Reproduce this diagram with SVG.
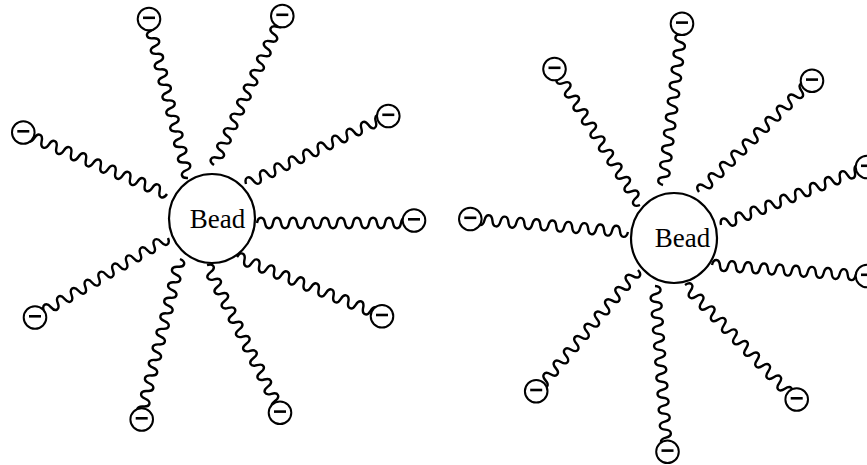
<svg xmlns="http://www.w3.org/2000/svg" xmlns:xlink="http://www.w3.org/1999/xlink" width="867" height="465" viewBox="0 0 867 465">
<style>
.bead{fill:#fff;stroke:#000;stroke-width:2.2}
.ion circle{fill:#fff;stroke:#000;stroke-width:2}
.ion line{stroke:#000;stroke-width:2.6}
.lbl{font-family:"Liberation Serif","Times New Roman",serif;font-size:27px;fill:#000;text-anchor:middle}
</style>
<defs>
<path id="w18" d="M0,0c1.2,-7 6.8,-7 8,0s6.8,7 8,0s6.8,-7 8,0s6.8,7 8,0s6.8,-7 8,0s6.8,7 8,0s6.8,-7 8,0s6.8,7 8,0s6.8,-7 8,0s6.8,7 8,0s6.8,-7 8,0s6.8,7 8,0s6.8,-7 8,0s6.8,7 8,0s6.8,-7 8,0s6.8,7 8,0s6.8,-7 8,0s6.8,7 8,0"/>
<path id="w19" d="M0,0c1.2,-7 6.8,-7 8,0s6.8,7 8,0s6.8,-7 8,0s6.8,7 8,0s6.8,-7 8,0s6.8,7 8,0s6.8,-7 8,0s6.8,7 8,0s6.8,-7 8,0s6.8,7 8,0s6.8,-7 8,0s6.8,7 8,0s6.8,-7 8,0s6.8,7 8,0s6.8,-7 8,0s6.8,7 8,0s6.8,-7 8,0s6.8,7 8,0s6.8,-7 8,0"/>
<path id="w20" d="M0,0c1.2,-7 6.8,-7 8,0s6.8,7 8,0s6.8,-7 8,0s6.8,7 8,0s6.8,-7 8,0s6.8,7 8,0s6.8,-7 8,0s6.8,7 8,0s6.8,-7 8,0s6.8,7 8,0s6.8,-7 8,0s6.8,7 8,0s6.8,-7 8,0s6.8,7 8,0s6.8,-7 8,0s6.8,7 8,0s6.8,-7 8,0s6.8,7 8,0s6.8,-7 8,0s6.8,7 8,0"/>
</defs>
<g id="connectors" fill="none" stroke="#000" stroke-width="2.4">
<use href="#w20" transform="translate(188,178) rotate(-104.04)"/>
<use href="#w20" transform="translate(214,165) rotate(-65.46)"/>
<use href="#w19" transform="translate(246,184) rotate(-25.68)"/>
<use href="#w19" transform="translate(257,223)"/>
<use href="#w19" transform="translate(167,194) rotate(-157.17)"/>
<use href="#w19" transform="translate(168,238) rotate(149.46)"/>
<use href="#w20" transform="translate(180,259) rotate(103.95)"/>
<use href="#w20" transform="translate(207,265) rotate(63.43)"/>
<use href="#w19" transform="translate(237,257) rotate(21.95)"/>
<use href="#w20" transform="translate(640,205) rotate(-122.09)"/>
<use href="#w20" transform="translate(663,185) rotate(-83.16)"/>
<use href="#w20" transform="translate(699,192) rotate(-44.72)"/>
<use href="#w20" transform="translate(721,225) rotate(-21.67)"/>
<use href="#w19" transform="translate(628,232) rotate(-175.3)"/>
<use href="#w19" transform="translate(712,265) rotate(4.06)"/>
<use href="#w20" transform="translate(685,285) rotate(46.11)"/>
<use href="#w20" transform="translate(655,286) rotate(85.89)"/>
<use href="#w19" transform="translate(638,270) rotate(129.96)"/>
</g>
<g id="bead-left"><ellipse class="bead" cx="212" cy="218.5" rx="43" ry="44.5"/><text class="lbl" x="217.5" y="228">Bead</text></g>
<g id="bead-right"><ellipse class="bead" cx="674" cy="238" rx="43" ry="45"/><text class="lbl" x="682.5" y="247">Bead</text></g>
<g id="ion-L1" class="ion"><circle cx="149" cy="19" r="11.3"/><line x1="143" y1="17.8" x2="155" y2="17.8"/></g>
<g id="ion-L2" class="ion"><circle cx="282.3" cy="16" r="11.3"/><line x1="276.3" y1="14.8" x2="288.3" y2="14.8"/></g>
<g id="ion-L3" class="ion"><circle cx="388.3" cy="116" r="11.3"/><line x1="382.3" y1="114.8" x2="394.3" y2="114.8"/></g>
<g id="ion-L4" class="ion"><circle cx="414" cy="220.5" r="11.3"/><line x1="408" y1="219.3" x2="420" y2="219.3"/></g>
<g id="ion-L5" class="ion"><circle cx="23.3" cy="132.5" r="11.3"/><line x1="17.3" y1="131.3" x2="29.3" y2="131.3"/></g>
<g id="ion-L6" class="ion"><circle cx="35" cy="317.5" r="11.3"/><line x1="29" y1="316.3" x2="41" y2="316.3"/></g>
<g id="ion-L7" class="ion"><circle cx="141.7" cy="419.5" r="11.3"/><line x1="135.7" y1="418.3" x2="147.7" y2="418.3"/></g>
<g id="ion-L8" class="ion"><circle cx="280" cy="412.8" r="11.3"/><line x1="274" y1="411.6" x2="286" y2="411.6"/></g>
<g id="ion-L9" class="ion"><circle cx="382" cy="316.2" r="11.3"/><line x1="376" y1="315" x2="388" y2="315"/></g>
<g id="ion-R1" class="ion"><circle cx="554.5" cy="69" r="11.3"/><line x1="548.5" y1="67.8" x2="560.5" y2="67.8"/></g>
<g id="ion-R2" class="ion"><circle cx="682" cy="23.8" r="11.3"/><line x1="676" y1="22.6" x2="688" y2="22.6"/></g>
<g id="ion-R3" class="ion"><circle cx="812" cy="80.8" r="11.3"/><line x1="806" y1="79.6" x2="818" y2="79.6"/></g>
<g id="ion-R4" class="ion"><circle cx="867" cy="167" r="11.3"/><line x1="861" y1="165.8" x2="873" y2="165.8"/></g>
<g id="ion-R5" class="ion"><circle cx="470.3" cy="219" r="11.3"/><line x1="464.3" y1="217.8" x2="476.3" y2="217.8"/></g>
<g id="ion-R6" class="ion"><circle cx="867" cy="276" r="11.3"/><line x1="861" y1="274.8" x2="873" y2="274.8"/></g>
<g id="ion-R7" class="ion"><circle cx="796.7" cy="399.5" r="11.3"/><line x1="790.7" y1="398.3" x2="802.7" y2="398.3"/></g>
<g id="ion-R8" class="ion"><circle cx="667.5" cy="451.8" r="11.3"/><line x1="661.5" y1="450.6" x2="673.5" y2="450.6"/></g>
<g id="ion-R9" class="ion"><circle cx="536.2" cy="391.2" r="11.3"/><line x1="530.2" y1="390" x2="542.2" y2="390"/></g>
</svg>
